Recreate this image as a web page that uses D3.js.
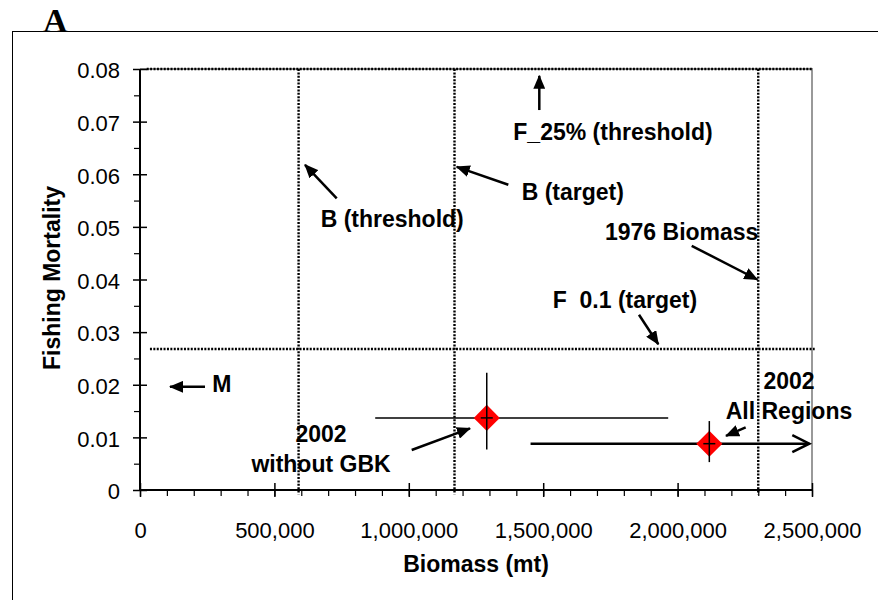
<!DOCTYPE html>
<html>
<head>
<meta charset="utf-8">
<script src="https://cdn.jsdelivr.net/npm/d3@7"></script>
<style>
    body { margin: 0; background: #fff; }
    svg { display: block; }
    text { font-family: "Liberation Sans", Arial, sans-serif; fill: #000; }
    .note { font-weight: bold; font-size: 23px; }
</style>
</head>
<body>
<svg id="chart" width="878" height="600"></svg>
<script>
// axis ticks
var biomassTicks = [0, 500000, 1000000, 1500000, 2000000, 2500000];
var mortalityTicks = [0, 0.01, 0.02, 0.03, 0.04, 0.05, 0.06, 0.07, 0.08];

// reference points (biomass, mt)
var refBiomassNames = ['B (threshold)', 'B (target)', '1976 Biomass'];
var refBiomassValues = [590000, 1170000, 2300000];
// reference fishing mortality
var refMortalityNames = ['F_25% (threshold)', 'F 0.1 (target)'];
var refMortalityValues = [0.08, 0.0268];
var refMortalityFrom = [25000, 37000];
var refMortalityTo = [2500000, 2510000];

// 2002 estimates with error ranges (null upper bound = off the scale)
var pointNames = ['2002 without GBK', '2002 All Regions'];
var pointBiomass = [1290000, 2118000];
var pointMortality = [0.0137, 0.0088];
var biomassLow = [875000, 1453000];
var biomassHigh = [1965000, null];
var mortalityLow = [0.0077, 0.0053];
var mortalityHigh = [0.0223, 0.0131];

// annotation labels (anchor in data units) and their arrows
var noteLines = [['F_25% (threshold)'], ['B (threshold)'], ['B (target)'], ['1976 Biomass'],
    ['F\u00a0 0.1 (target)'], ['M'], ['2002', 'without GBK'], ['2002', 'All Regions']];
var noteBiomass = [1759700, 672200, 1419900, 1729900, 1535300, 269000, 673400, 2414400];
var noteMortality = [0.0665, 0.0500, 0.0551, 0.0476, 0.0345, 0.0186, 0.0091, 0.0191];
var noteAnchor = ['middle', 'start', 'start', 'start', 'start', 'start', 'middle', 'middle'];
var arrowFrom = [[1485500, 0.0722], [731800, 0.0554], [1370200, 0.0580], [2052500, 0.0464],
    [1856400, 0.0333], [241800, 0.0196], [1010800, 0.0076], [2253300, 0.0119]];
var arrowTo = [[1485500, 0.0787], [613800, 0.0618], [1178200, 0.0614], [2296500, 0.0400],
    [1928200, 0.0277], [111600, 0.0196], [1227700, 0.0117], [2180100, 0.0103]];

var svg = d3.select('#chart');

var plot = { left: 140, right: 812, top: 69, bottom: 490 };

var x = d3.scaleLinear().domain([0, 2500000]).range([plot.left, plot.right]);
var y = d3.scaleLinear().domain([0, 0.08]).range([plot.bottom, plot.top]);

// outer frame + panel letter
svg.append('rect')
    .attr('x', 12.5).attr('y', 31.5)
    .attr('width', 900).attr('height', 600)
    .attr('fill', 'none').attr('stroke', '#000').attr('stroke-width', 1);

svg.append('text')
    .attr('x', 43).attr('y', 32)
    .style('font-family', '"Liberation Serif", "Times New Roman", serif')
    .style('font-weight', 'bold')
    .style('font-size', '34px')
    .text('A');

var defs = svg.append('defs');
defs.append('marker')
    .attr('id', 'head')
    .attr('markerUnits', 'userSpaceOnUse')
    .attr('viewBox', '0 0 14 12')
    .attr('refX', 13).attr('refY', 6)
    .attr('markerWidth', 14).attr('markerHeight', 12)
    .attr('orient', 'auto')
    .append('path')
    .attr('d', 'M0,0 L14,6 L0,12 Z')
    .attr('fill', '#000');

// plot area border (top and right, grey)
svg.append('path')
    .attr('d', 'M' + plot.left + ',' + plot.top + 'H' + plot.right + 'V' + plot.bottom)
    .attr('fill', 'none').attr('stroke', '#999').attr('stroke-width', 2);

// minor ticks
svg.append('g')
    .attr('transform', 'translate(0,' + plot.bottom + ')')
    .call(d3.axisBottom(x).tickValues(d3.range(0, 2500001, 100000)).tickSize(6).tickFormat(''))
    .call(function(g) { g.select('.domain').remove(); })
    .selectAll('line').attr('stroke-width', 1.2);

svg.append('g')
    .attr('transform', 'translate(' + plot.left + ',0)')
    .call(d3.axisLeft(y).tickValues(d3.range(0.005, 0.08, 0.01)).tickSize(6).tickFormat(''))
    .call(function(g) { g.select('.domain').remove(); })
    .selectAll('line').attr('stroke-width', 1.2);

// x axis
var xAxis = svg.append('g')
    .attr('transform', 'translate(0,' + plot.bottom + ')')
    .call(d3.axisBottom(x).tickValues(biomassTicks).tickSize(7).tickPadding(25).tickFormat(d3.format(',')));
xAxis.select('.domain').remove();
xAxis.selectAll('.tick line').attr('y1', -7).attr('stroke-width', 1.5);
xAxis.selectAll('.tick text')
    .style('font-size', '22px')
    .style('font-family', '"Liberation Sans", Arial, sans-serif');

// y axis
var yAxis = svg.append('g')
    .attr('transform', 'translate(' + plot.left + ',0)')
    .call(d3.axisLeft(y).tickValues(mortalityTicks).tickSize(7).tickPadding(13)
        .tickFormat(function(d) { return d === 0 ? '0' : d3.format('.2f')(d); }));
yAxis.select('.domain').remove();
yAxis.selectAll('.tick line').attr('x1', 7).attr('stroke-width', 1.5);
yAxis.selectAll('.tick text')
    .attr('dy', '0.4em')
    .style('font-size', '22px')
    .style('font-family', '"Liberation Sans", Arial, sans-serif');

// reference lines (dotted)
var dotted = svg.append('g')
    .attr('stroke', '#000').attr('stroke-width', 2.4).attr('stroke-dasharray', '2,1.4');

dotted.selectAll('line.ref-f')
    .data(refMortalityValues)
    .enter()
    .append('line')
    .attr('class', 'ref-f')
    .attr('x1', function(d, i) { return x(refMortalityFrom[i]); })
    .attr('x2', function(d, i) { return x(refMortalityTo[i]); })
    .attr('y1', function(d) { return y(d); })
    .attr('y2', function(d) { return y(d); });

dotted.selectAll('line.ref-b')
    .data(refBiomassValues)
    .enter()
    .append('line')
    .attr('class', 'ref-b')
    .attr('x1', function(d) { return x(d); })
    .attr('x2', function(d) { return x(d); })
    .attr('y1', y(0.08))
    .attr('y2', y(-0.0008));

// axis lines on top
svg.append('line')
    .attr('x1', plot.left).attr('x2', plot.right)
    .attr('y1', plot.bottom).attr('y2', plot.bottom)
    .attr('stroke', '#000').attr('stroke-width', 2);
svg.append('line')
    .attr('x1', plot.left).attr('x2', plot.left)
    .attr('y1', plot.top).attr('y2', plot.bottom)
    .attr('stroke', '#000').attr('stroke-width', 2);

// error bars + points
var pts = svg.append('g').selectAll('g')
    .data(pointNames)
    .enter()
    .append('g');

pts.append('line')
    .attr('x1', function(d, i) { return x(biomassLow[i]); })
    .attr('x2', function(d, i) { return biomassHigh[i] === null ? x(2490000) : x(biomassHigh[i]); })
    .attr('y1', function(d, i) { return y(pointMortality[i]); })
    .attr('y2', function(d, i) { return y(pointMortality[i]); })
    .attr('stroke', '#000')
    .attr('stroke-width', function(d, i) { return biomassHigh[i] === null ? 2.5 : 1.5; });

// open-ended upper bound drawn as arrow
pts.filter(function(d, i) { return biomassHigh[i] === null; })
    .append('path')
    .attr('d', function(d) {
        var i = pointNames.indexOf(d);
        var tx = x(2490000), ty = y(pointMortality[i]);
        return 'M' + (tx - 17) + ',' + (ty - 8.5) + 'L' + tx + ',' + ty + 'L' + (tx - 17) + ',' + (ty + 8.5);
    })
    .attr('fill', 'none').attr('stroke', '#000').attr('stroke-width', 2.5);

pts.append('path')
    .attr('d', d3.symbol().type(d3.symbolSquare).size(340))
    .attr('transform', function(d, i) {
        return 'translate(' + x(pointBiomass[i]) + ',' + y(pointMortality[i]) + ') rotate(45)';
    })
    .attr('fill', '#ff0000');

pts.append('line')
    .attr('x1', function(d, i) { return x(pointBiomass[i]); })
    .attr('x2', function(d, i) { return x(pointBiomass[i]); })
    .attr('y1', function(d, i) { return y(mortalityHigh[i]); })
    .attr('y2', function(d, i) { return y(mortalityLow[i]); })
    .attr('stroke', '#000').attr('stroke-width', 1.5);

pts.append('line')
    .attr('x1', function(d, i) { return x(pointBiomass[i]) - 6; })
    .attr('x2', function(d, i) { return x(pointBiomass[i]) + 6; })
    .attr('y1', function(d, i) { return y(pointMortality[i]); })
    .attr('y2', function(d, i) { return y(pointMortality[i]); })
    .attr('stroke', '#000').attr('stroke-width', 1.5);

// annotation arrows
svg.append('g').selectAll('line')
    .data(arrowFrom)
    .enter()
    .append('line')
    .attr('x1', function(d) { return x(d[0]); })
    .attr('y1', function(d) { return y(d[1]); })
    .attr('x2', function(d, i) { return x(arrowTo[i][0]); })
    .attr('y2', function(d, i) { return y(arrowTo[i][1]); })
    .attr('stroke', '#000').attr('stroke-width', 2.5)
    .attr('marker-end', 'url(#head)');

// annotation labels
var notes = svg.append('g').selectAll('text')
    .data(noteLines)
    .enter()
    .append('text')
    .attr('class', 'note')
    .attr('text-anchor', function(d, i) { return noteAnchor[i]; })
    .attr('x', function(d, i) { return x(noteBiomass[i]); })
    .attr('y', function(d, i) { return y(noteMortality[i]); });

notes.selectAll('tspan')
    .data(function(d, i) { return d.map(function(s) { return { s: s, i: i }; }); })
    .enter()
    .append('tspan')
    .attr('x', function(d) { return x(noteBiomass[d.i]); })
    .attr('dy', function(d, j) { return j === 0 ? 0 : 30; })
    .text(function(d) { return d.s; });

// axis titles
svg.append('text')
    .attr('class', 'note')
    .attr('text-anchor', 'middle')
    .attr('x', (plot.left + plot.right) / 2)
    .attr('y', 572)
    .text('Biomass (mt)');

svg.append('text')
    .attr('class', 'note')
    .attr('text-anchor', 'middle')
    .attr('transform', 'translate(60,' + 278 + ') rotate(-90)')
    .text('Fishing Mortality');
</script>
</body>
</html>
